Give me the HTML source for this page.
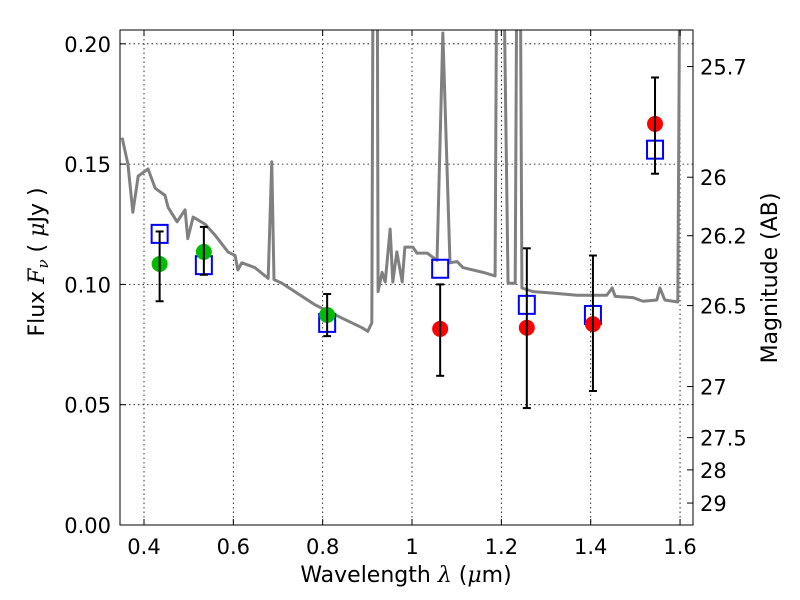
<!DOCTYPE html>
<html><head><meta charset="utf-8"><style>
body{margin:0;background:#fff;}
svg{display:block;font-family:"DejaVu Sans","Liberation Sans",sans-serif;}
</style></head><body>
<svg id="chart" width="800" height="600">
<rect width="800" height="600" fill="#fff"/>
<g id="grid"></g>
<g id="spec"></g>
<g id="pts"></g>
<g id="axes"></g>
<text x="406" y="582" font-size="22" text-anchor="middle">Wavelength  <tspan font-style="italic" font-family="DejaVu Serif,serif">λ</tspan> (<tspan font-style="italic" font-family="DejaVu Serif,serif">μ</tspan>m)</text>
<text transform="translate(44,262) rotate(-90)" font-size="22" text-anchor="middle">Flux  <tspan font-style="italic" font-family="DejaVu Serif,serif">F<tspan font-size="15" dy="4">ν</tspan></tspan><tspan dy="-4">  ( </tspan><tspan font-style="italic" font-family="DejaVu Serif,serif">μ</tspan>Jy )</text>
<text transform="translate(777,278) rotate(-90)" font-size="22" text-anchor="middle">Magnitude (AB)</text>
</svg>
<script>
const specLam=[0.351,0.364,0.375,0.387,0.409,0.425,0.447,0.454,0.474,0.492,0.498,0.510,0.537,0.559,0.588,0.604,0.610,0.619,0.648,0.678,0.686,0.691,0.709,0.783,0.843,0.888,0.901,0.910,0.913,0.922,0.924,0.933,0.940,0.951,0.957,0.966,0.978,0.984,1.002,1.011,1.034,1.056,1.069,1.085,1.101,1.114,1.159,1.186,1.19,1.204,1.215,1.231,1.235,1.242,1.246,1.271,1.309,1.369,1.436,1.448,1.455,1.495,1.517,1.548,1.555,1.566,1.595,1.600,1.603];
const specFlux=[0.161,0.150,0.130,0.145,0.148,0.140,0.137,0.132,0.126,0.131,0.119,0.128,0.125,0.1205,0.1135,0.112,0.106,0.109,0.107,0.1025,0.151,0.102,0.1005,0.0915,0.086,0.082,0.0805,0.084,0.25,0.25,0.097,0.105,0.101,0.123,0.101,0.1135,0.101,0.1155,0.1155,0.113,0.113,0.110,0.2045,0.109,0.1095,0.107,0.105,0.1035,0.25,0.25,0.1005,0.1005,0.25,0.25,0.0985,0.097,0.0965,0.0955,0.0955,0.0985,0.095,0.0945,0.093,0.0935,0.0985,0.0935,0.0927,0.25,0.25];
const obsLam=[0.435,0.534,0.81,1.063,1.257,1.405,1.544];
const obsFlux=[0.1085,0.1135,0.0873,0.0815,0.082,0.0835,0.1667];
const errLo=[0.093,0.104,0.0785,0.062,0.0486,0.0557,0.146];
const errHi=[0.122,0.1239,0.096,0.100,0.115,0.112,0.186];
const modelFlux=[0.121,0.108,0.084,0.1065,0.0915,0.0873,0.156];
const obsColor=['#00bb00','#00bb00','#00bb00','#ff0000','#ff0000','#ff0000','#ff0000'];
const xTicks=[0.4,0.6,0.8,1.0,1.2,1.4,1.6];
const xTickLabels=['0.4','0.6','0.8','1','1.2','1.4','1.6'];
const yTicks=[0,0.05,0.10,0.15,0.20];
const yTickLabels=['0.00','0.05','0.10','0.15','0.20'];
const magTicks=[25.7,26,26.2,26.5,27,27.5,28,29];
const magLabels=['25.7','26','26.2','26.5','27','27.5','28','29'];
const L=120,R=693,T=30,B=525;
const X=v=>144+(v-0.4)*446.7;
const Y=v=>525-v*2406;
const NS='http://www.w3.org/2000/svg';
function mk(p,t,a){const e=document.createElementNS(NS,t);for(const k in a)e.setAttribute(k,a[k]);p.appendChild(e);return e;}
const grid=document.getElementById('grid'),axes=document.getElementById('axes'),spec=document.getElementById('spec'),pts=document.getElementById('pts');
xTicks.forEach((v,i)=>{
 const g=mk(grid,'line',{x1:X(v),x2:X(v),y1:T,y2:B,stroke:'#000','stroke-width':0.8,'stroke-dasharray':'1.5,3'});
 
 mk(axes,'line',{x1:X(v),x2:X(v),y1:B,y2:B-6,stroke:'#000'});
 mk(axes,'line',{x1:X(v),x2:X(v),y1:T,y2:T+6,stroke:'#000'});
 const t=mk(axes,'text',{x:X(v),y:554,'font-size':21,'text-anchor':'middle'});t.textContent=xTickLabels[i];
 
});
yTicks.forEach((v,i)=>{
 const g=mk(grid,'line',{x1:L,x2:R,y1:Y(v),y2:Y(v),stroke:'#000','stroke-width':0.8,'stroke-dasharray':'1.5,3'});
 
 mk(axes,'line',{x1:L,x2:L+6,y1:Y(v),y2:Y(v),stroke:'#000'});
 const t=mk(axes,'text',{x:111,y:Y(v)+8,'font-size':21,'text-anchor':'end'});t.textContent=yTickLabels[i];
 
});
magTicks.forEach((m,i)=>{
 const y=Y(Math.pow(10,(23.9-m)/2.5));
 mk(axes,'line',{x1:R,x2:R-6,y1:y,y2:y,stroke:'#000'});
 const t=mk(axes,'text',{x:700,y:y+8,'font-size':21});t.textContent=magLabels[i];
 
});
mk(axes,'rect',{x:L,y:T,width:R-L,height:B-T,fill:'none',stroke:'#000','stroke-width':1});
mk(spec,'clipPath',{id:'clip'});
mk(document.getElementById('clip'),'rect',{x:L,y:T,width:R-L,height:B-T});
const sp=mk(spec,'polyline',{points:specLam.map((l,i)=>X(l)+','+Y(specFlux[i])).join(' '),fill:'none',stroke:'#808080','stroke-width':3,'clip-path':'url(#clip)','stroke-linejoin':'round'});

obsLam.forEach((l,i)=>{
 const x=X(l);
 const s=mk(pts,'rect',{x:x-8,y:Y(modelFlux[i])-9,width:16,height:18,fill:'none',stroke:'#0000ff','stroke-width':2});
 
 const c=mk(pts,'circle',{cx:x,cy:Y(obsFlux[i]),r:8,fill:obsColor[i]});
 
 const e=mk(pts,'g',{stroke:'#000','stroke-width':2});
 
 mk(e,'line',{x1:x,x2:x,y1:Y(errLo[i]),y2:Y(errHi[i])});
 mk(e,'line',{x1:x-4,x2:x+4,y1:Y(errLo[i]),y2:Y(errLo[i])});
 mk(e,'line',{x1:x-4,x2:x+4,y1:Y(errHi[i]),y2:Y(errHi[i])});
});
</script>
</body></html>
